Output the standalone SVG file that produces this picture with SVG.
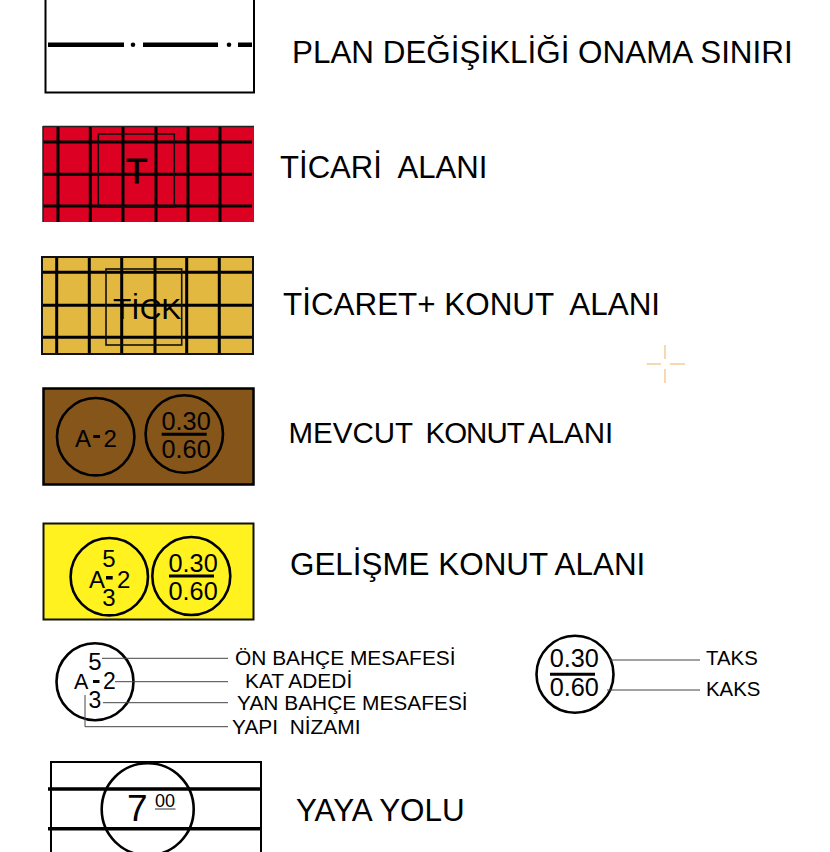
<svg xmlns="http://www.w3.org/2000/svg" width="830" height="852" viewBox="0 0 830 852">
<style>
text{font-family:"Liberation Sans",Arial,sans-serif;fill:#000;white-space:pre}
.title{font-size:31.4px}
.lab{font-size:20.9px}
.lab2{font-size:20.4px}
.n{font-size:25.3px}
.s{font-size:24px}
.l{font-size:23px}
.grid{stroke:#000;stroke-width:3;fill:none}
.thin{stroke:#111;stroke-width:1.600;fill:none}
.c{fill:none;stroke:#000;stroke-width:2.600}
.lead{stroke:#444;stroke-width:1;fill:none}
.bar{stroke:#000;stroke-width:3;fill:none}
</style>
<rect width="830" height="852" fill="#fff"/>

<g id="plan-sinir">
<path d="M45.500-2V92.500H254V-2" fill="#fff" stroke="#000" stroke-width="2"/>
<path d="M48 44.700H124M143 44.700H218M238 44.700H252" stroke="#000" stroke-width="4.500" fill="none"/>
<circle cx="133" cy="44.700" r="2.300"/><circle cx="229" cy="44.700" r="2.300"/>
<text class="title" x="292" y="63">PLAN DEĞİŞİKLİĞİ ONAMA SINIRI</text>
</g>

<g id="ticari">
<rect x="43" y="126" width="211" height="96" fill="#dc0022"/>
<path class="grid" d="M58 126V222M90.300 126V222M123 126V222M156 126V222M188 126V222M220 126V222M43 142H252M43 174.300H252M43 206H252"/>
<path d="M43 126.500H254M43 126V222" stroke="#222" stroke-width="1.500" fill="none"/>
<rect class="thin" x="98.300" y="134" width="76" height="73"/>
<text x="136.700" y="183" font-size="35" text-anchor="middle" stroke="#000" stroke-width="0.800">T</text>
<text class="title" x="280" y="178" style="font-size:31.100px">TİCARİ  ALANI</text>
</g>

<g id="ticaret-konut">
<rect x="42" y="257" width="211" height="97" fill="#e3b840"/>
<path class="grid" d="M56.700 257V354M89.300 257V354M121.700 257V354M155 257V354M186.700 257V354M219.300 257V354M42 272.300H253M42 305.300H253M42 337.300H253"/>
<rect x="42" y="257" width="211" height="97" fill="none" stroke="#111" stroke-width="2"/>
<rect class="thin" x="106" y="269" width="75.700" height="76"/>
<text x="113" y="319" font-size="30">TİCK</text>
<text class="title" x="283" y="315">TİCARET+ KONUT  ALANI</text>
</g>

<g id="mevcut-konut">
<rect x="43.500" y="388.500" width="210" height="96" fill="#85551a" stroke="#000" stroke-width="2.500"/>
<circle class="c" cx="95.700" cy="436.700" r="38.700"/>
<circle class="c" cx="184.300" cy="434" r="38.700"/>
<text class="s" x="75" y="446.700">A</text>
<rect x="93.300" y="435" width="6.700" height="3"/>
<text class="s" x="103.500" y="446.700">2</text>
<text class="n" x="161.500" y="430">0.30</text>
<path class="bar" d="M161.700 434.300H206.700"/>
<text class="n" x="161.500" y="458">0.60</text>
<text x="288.500" y="442.500" style="font-size:29.500px">MEVCUT <tspan x="425.500" letter-spacing="-1">KONUT </tspan><tspan x="528">ALANI</tspan></text>
</g>

<g id="gelisme-konut">
<rect x="43.500" y="523.500" width="210" height="96" fill="#fff21e" stroke="#111" stroke-width="2"/>
<circle class="c" cx="109.300" cy="576.700" r="38.700"/>
<circle class="c" cx="191.300" cy="576" r="39"/>
<text class="s" x="109" y="566.700" text-anchor="middle">5</text>
<text class="s" x="89" y="587.700">A</text>
<rect x="106" y="576" width="6.700" height="3.500"/>
<text class="s" x="117" y="587.700">2</text>
<text class="s" x="109" y="605.700" text-anchor="middle">3</text>
<text class="n" x="168.500" y="571.700">0.30</text>
<path class="bar" d="M169 576H214"/>
<text class="n" x="168.500" y="600">0.60</text>
<text class="title" x="290" y="575">GELİŞME KONUT ALANI</text>
</g>

<g id="nizam-aciklama">
<circle class="c" cx="95" cy="681.700" r="38.500"/>
<text class="s" x="95" y="670" text-anchor="middle">5</text>
<text x="74" y="689" font-size="21.500">A</text>
<rect x="93" y="680" width="6.500" height="3"/>
<text class="l" x="103" y="689">2</text>
<text class="l" x="88.500" y="708">3</text>
<text class="lab" x="235" y="665">ÖN BAHÇE MESAFESİ</text>
<text class="lab" x="245" y="688.300">KAT ADEDİ</text>
<text class="lab" x="237" y="710">YAN BAHÇE MESAFESİ</text>
<text class="lab" x="232" y="734">YAPI  NİZAMI</text>
</g>

<g id="taks-kaks">
<circle class="c" cx="575" cy="674.300" r="38.500"/>
<text class="n" x="549.700" y="667.300">0.30</text>
<path class="bar" d="M550 674.300H595"/>
<text class="n" x="549.700" y="695.700">0.60</text>
<text class="lab2" x="706" y="665">TAKS</text>
<text class="lab2" x="706" y="695.700">KAKS</text>
</g>

<g id="yaya-yolu">
<path d="M51 853V762H261V853" fill="none" stroke="#000" stroke-width="2"/>
<path d="M48 789H260M48 828.700H260" stroke="#000" stroke-width="3.500" fill="none"/>
<circle cx="147.700" cy="809.300" r="46" fill="none" stroke="#000" stroke-width="2.600"/>
<text x="127" y="821" font-size="37">7</text>
<text x="155" y="806.700" font-size="18">00</text>
<path d="M155 809H175.500" stroke="#333" stroke-width="1"/>
<text class="title" x="296" y="821">YAYA YOLU</text>
</g>

<g id="connectors">
<path class="lead" d="M102 658.300H228M115 681.700H228M103 702.700H228M85 695V726.700H228M610 660H700M607 690H700"/>
</g>

<g id="isaret">
<path d="M646.700 364H661M670 364H685M665 345V359M665 369V383" stroke="#f0b060" stroke-width="1" fill="none"/>
</g>
</svg>
